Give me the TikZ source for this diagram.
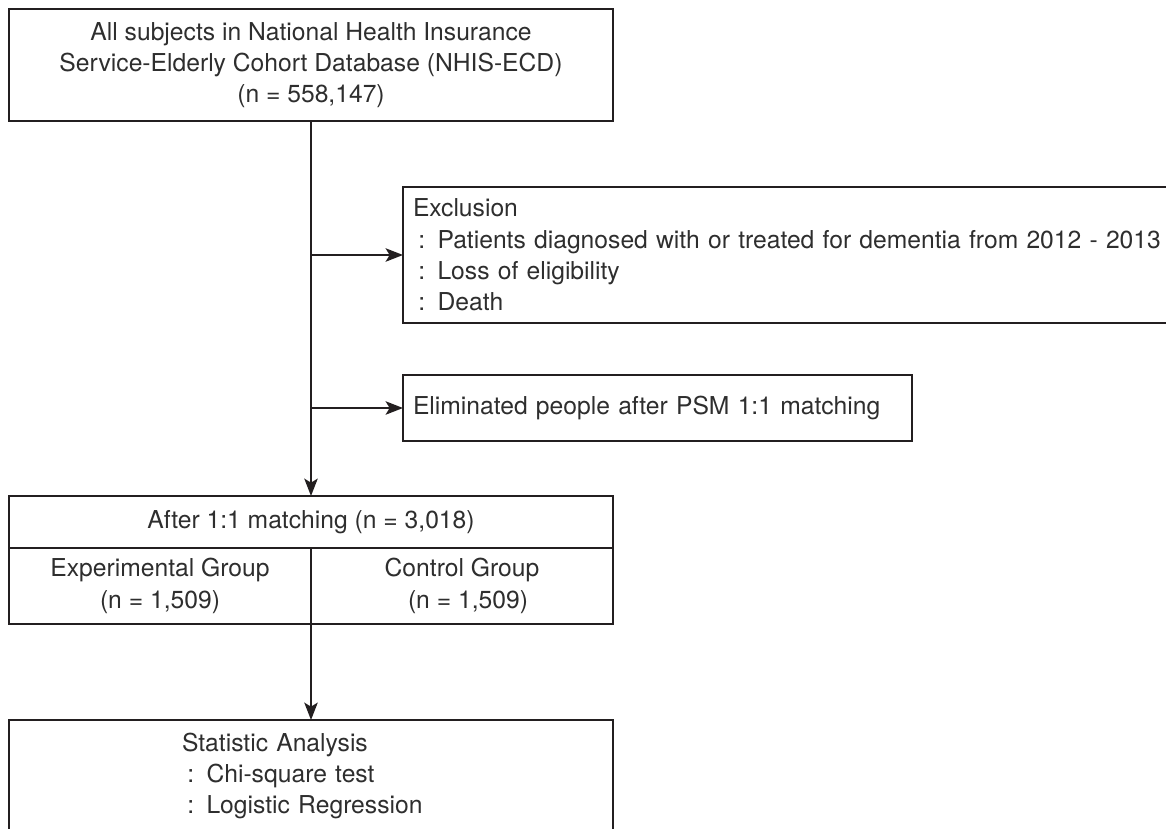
\documentclass[tikz,border=0pt]{standalone}
\usepackage{fontspec}
\setmainfont{TeX Gyre Heros}
\usetikzlibrary{arrows.meta}
\definecolor{ink}{RGB}{35,31,32}

\begin{document}
\begin{tikzpicture}[x=0.75pt,y=0.75pt,yscale=-1,xscale=1,
    box/.style={draw=ink, line width=1.5pt, text=black!82, inner sep=0pt, outer sep=0pt,
        font=\fontsize{18.5}{23.5}\selectfont, execute at begin node=\setlength{\parindent}{0pt}},
    flow/.style={draw=ink, line width=1.8pt, -{Stealth[length=13pt,width=10pt,inset=3pt]}}]
        \useasboundingbox (0,0) rectangle (1166,828);

        %Shape: Rectangle [id:allsubj]
        \node [box, anchor=north west, minimum width=453pt, minimum height=84pt, align=center] (allsubj) at (9,9)
            {All subjects in National Health Insurance\\Service-Elderly Cohort Database (NHIS-ECD)\\(n = 558,147)};
        %Shape: Rectangle [id:exclusion]
        \node [box, anchor=north west, minimum height=102pt, text width=565pt, inner xsep=7.5pt, align=left] (exclusion) at (403,187)
            {Exclusion\\\hspace*{4pt}: Patients diagnosed with or treated for dementia from 2012 - 2013\\\hspace*{4pt}: Loss of eligibility\\\hspace*{4pt}: Death};
        %Shape: Rectangle [id:elim]
        \node [box, anchor=north west, minimum height=49.5pt, text width=367pt, inner xsep=7.5pt, align=left] (elim) at (403,375)
            {Eliminated people after PSM 1:1 matching};
        %Shape: Rectangle [id:matched]
        \node [box, anchor=north west, minimum width=453pt, minimum height=39pt] (matched) at (9,496)
            {After 1:1 matching (n = 3,018)};
        %Shape: Rectangle [id:expgrp]
        \node [box, anchor=north west, minimum width=226.5pt, minimum height=57pt, align=center] (expgrp) at (matched.south west)
            {Experimental Group\\(n = 1,509)};
        %Shape: Rectangle [id:ctrlgrp]
        \node [box, anchor=north east, minimum width=226.5pt, minimum height=57pt, align=center] (ctrlgrp) at (matched.south east)
            {Control Group\\\hspace*{9pt}(n = 1,509)};
        %Shape: Rectangle [id:analysis]
        \node [box, anchor=north west, minimum height=84pt, text width=193.5pt, inner xsep=129.75pt, align=left] (analysis) at (9,720)
            {Statistic Analysis\\\hspace*{4pt}: Chi-square test\\\hspace*{4pt}: Logistic Regression};

        %Straight Lines [id:main]
        \draw [flow] (allsubj.south) -- (matched.north);
        %Straight Lines [id:toexcl]
        \draw [flow] (allsubj.south |- exclusion.west) -- (exclusion.west);
        %Straight Lines [id:toelim]
        \draw [flow] (allsubj.south |- elim.west) -- (elim.west);
        %Straight Lines [id:toanalysis]
        \draw [flow] (expgrp.south east) -- (analysis.north);
    \end{tikzpicture}
\end{document}
